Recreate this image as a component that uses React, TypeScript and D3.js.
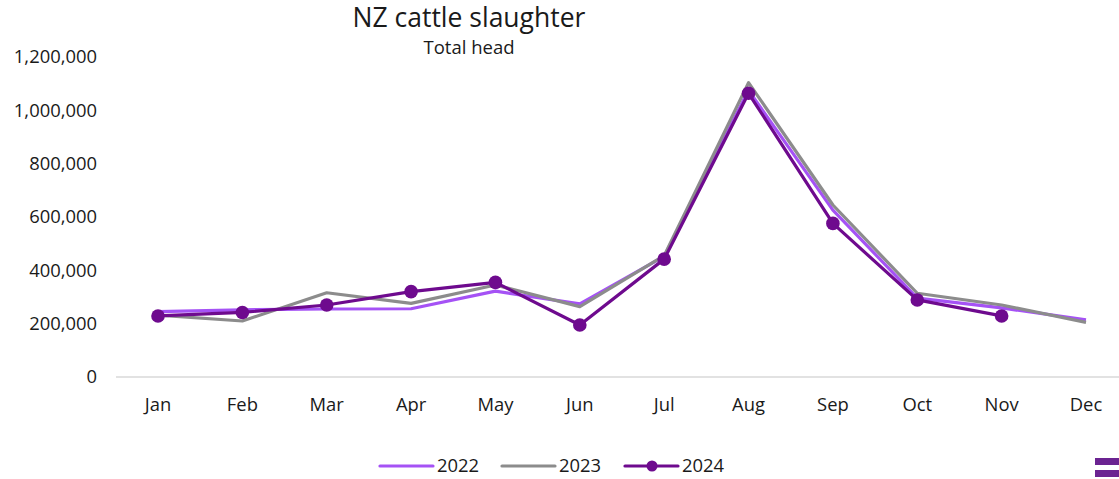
import React from "react";
import * as d3 from "d3";

const months = ["Jan", "Feb", "Mar", "Apr", "May", "Jun", "Jul", "Aug", "Sep", "Oct", "Nov", "Dec"];
const s2022 = [245000, 252000, 255000, 256000, 322000, 274000, 452000, 1075000, 626000, 296000, 259000, 214000];
const s2023 = [232000, 210000, 316000, 276000, 345000, 264000, 455000, 1104000, 645000, 314000, 270000, 205000];
const s2024 = [229000, 242000, 270000, 320000, 355000, 195000, 442000, 1064000, 576000, 289000, 229000];
const yTicks = [0, 200000, 400000, 600000, 800000, 1000000, 1200000];
const seriesNames = ["2022", "2023", "2024"];
const colors = ["#a552f5", "#8c8c8c", "#6e0a8e"];

const W = 1119, H = 479;
const FONT = "'Open Sans', sans-serif";

export default function App() {
  const x = d3.scalePoint<string>().domain(months).range([158, 1086]);
  const y = d3.scaleLinear().domain([0, 1200000]).range([377, 57]);
  const fmt = d3.format(",");
  const line = d3
    .line<number>()
    .x((_, i) => x(months[i]) as number)
    .y((d) => y(d));
  const all = [s2022, s2023, s2024];
  const legendX = [380, 502, 625];
  return (
    <svg width={W} height={H} style={{ position: "absolute", left: 0, top: 0, background: "#fff" }} fontFamily={FONT}>
      <text x={469} y={27} textAnchor="middle" fontSize={26.5} fill="#1a1a1a">NZ cattle slaughter</text>
      <text x={469} y={54} textAnchor="middle" fontSize={18.5} fill="#1a1a1a">Total head</text>
      {yTicks.map((t) => (
        <text key={t} x={97} y={y(t)} dy="0.35em" textAnchor="end" fontSize={18.4} fill="#1a1a1a">{fmt(t)}</text>
      ))}
      <line x1={116} x2={1128} y1={y(0)} y2={y(0)} stroke="#d9d9d9" strokeWidth={1.5} />
      {months.map((m) => (
        <text key={m} x={x(m)} y={405} dy="0.35em" textAnchor="middle" fontSize={18.4} fill="#1a1a1a">{m}</text>
      ))}
      {all.map((s, k) => (
        <path key={k} d={line(s) || ""} fill="none" stroke={colors[k]} strokeWidth={3.2} strokeLinejoin="round" />
      ))}
      {s2024.map((v, i) => (
        <circle key={i} cx={x(months[i])} cy={y(v)} r={6.8} fill={colors[2]} />
      ))}
      {seriesNames.map((n, k) => (
        <g key={n}>
          <line x1={legendX[k]} x2={legendX[k] + 53} y1={466} y2={466} stroke={colors[k]} strokeWidth={3.2} strokeLinecap="round" />
          {k === 2 && <circle cx={legendX[k] + 27} cy={466} r={5.5} fill={colors[2]} />}
          <text x={legendX[k] + 57} y={466} dy="0.35em" fontSize={18.4} fill="#1a1a1a">{n}</text>
        </g>
      ))}
      <rect x={1095} y={458} width={24} height={7} fill="#6b2391" />
      <rect x={1095} y={470} width={24} height={7} fill="#6b2391" />
    </svg>
  );
}
